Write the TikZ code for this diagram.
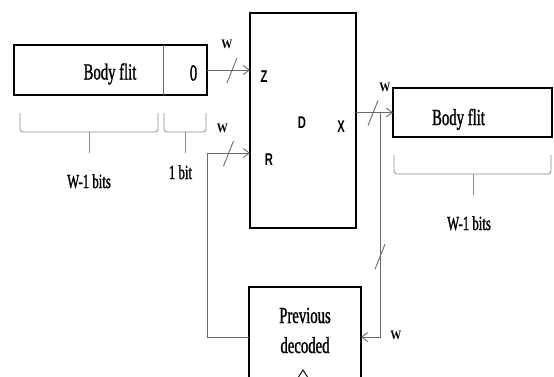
\documentclass[tikz,border=0pt]{standalone}
\usepackage{fontspec}
\usetikzlibrary{arrows.meta,positioning,calc}
\newfontfamily\flitfont{Liberation Serif}[FakeStretch=0.64, FakeBold=1.2]
\newfontfamily\portfont{Liberation Sans}[FakeStretch=0.66]
\newfontfamily\busfont{Liberation Serif}[FakeStretch=0.85]
\definecolor{wiregray}{HTML}{6A6A6A}
\definecolor{bracegray}{HTML}{8C8C8C}

\begin{document}
\begin{tikzpicture}[
  x=1pt, y=-1pt,
  >={Straight Barb[length=6pt,width=9pt]},
  box/.style={rectangle, draw=black, line width=2pt, inner sep=0pt, outer sep=0pt},
  cell/.style={rectangle, inner sep=0pt, outer sep=0pt},
  wire/.style={draw=wiregray, line width=0.9pt},
  busmark/.style={draw=wiregray, line width=0.9pt},
  bitbrace/.style={draw=bracegray, line width=0.8pt, rounded corners=3pt},
  flit/.style={font=\flitfont\fontsize{23}{28}\selectfont, inner sep=0pt, anchor=base},
  bitlabel/.style={font=\flitfont\fontsize{20}{24}\selectfont, inner sep=0pt, anchor=base},
  port/.style={font=\portfont\bfseries\fontsize{17}{20}\selectfont, inner sep=0pt, anchor=base},
  buswidth/.style={font=\busfont\bfseries\fontsize{13}{15}\selectfont, inner sep=0pt, anchor=base}
]
  \useasboundingbox (0,0) rectangle (554,376);

  % input flit
  \node[cell, minimum width=149pt, minimum height=50pt] (lbody) at (88.5,70) {};
  \node[cell, minimum width=44pt, minimum height=50pt, right=0pt of lbody] (lzero) {};
  \draw[line width=2pt] (lbody.north west) rectangle (lzero.south east);
  \draw[wire] (lzero.north west) -- (lzero.south west);
  \node[flit] (lbodytxt) at ($(lbody.center)+(21.5,9.5)$) {Body flit};
  \node[flit] (lzerotxt) at ($(lzero.center)+(8.5,10.5)$) {0};

  % decoder, output flit, previous decoded
  \node[box, minimum width=106pt, minimum height=215pt] (dec) at (303,120.5) {};
  \node[box, minimum width=159pt, minimum height=49pt] (rbody) at (472.5,112.5) {};
  \node[box, minimum width=112pt, minimum height=100pt] (prev) at (305,337) {};
  \draw[line width=0.9pt] ($(prev.south)+(-13,0)$) -- ($(prev.south)+(-2,-17)$) -- ($(prev.south)+(9,0)$);

  \node[flit] (rbodytxt) at ($(rbody.center)+(-14,12.5)$) {Body flit};
  \node[flit] (prevtxt) at ($(prev.center)+(0,-14)$) {Previous};
  \node[flit] (dectxt) at ($(prev.center)+(0,16)$) {decoded};

  \node[port] (zport) at ($(dec.west)+(14,-38.5)$) {Z};
  \node[port] (rport) at ($(dec.west)+(19,44.5)$) {R};
  \node[port] (dport) at ($(dec.center)+(-1,7.5)$) {D};
  \node[port] (xport) at ($(dec.east)+(-15,11.5)$) {X};

  % connectors
  \coordinate (rin) at ($(dec.west)+(0,32.5)$);
  \draw[wire,->] (lzero.east) -- coordinate[pos=0.58] (zbus) (lzero.east -| dec.west);
  \draw[wire,->] (prev.west) -| (lzero.east |- rin) -- coordinate[pos=0.5] (rbus) (rin);
  \draw[wire,->] (rbody.west -| dec.east) -- coordinate[pos=0.46] (xbus) (rbody.west);
  \coordinate (tap) at ($(rbody.west -| dec.east)+(24,0)$);
  \draw[wire,->] (tap) -- coordinate[pos=0.64] (fbus) (tap |- prev.east) -- (prev.east);

  \foreach \b in {zbus,rbus,xbus,fbus}
    \draw[busmark] ($(\b)+(-5,13)$) -- ($(\b)+(5,-12)$);

  \node[buswidth] (zw) at ($(zbus)+(-5,-22)$) {W};
  \node[buswidth] (rw) at ($(rbus)+(-6,-21)$) {W};
  \node[buswidth] (xw) at ($(xbus)+(12,-21.5)$) {W};
  \node[buswidth] (fw) at ($(prev.east)+(35,2)$) {W};

  % bit braces
  \foreach \xa/\xm/\xb/\yt in {20/89/158/113, 164/185/206/113, 394/473/551/155} {
    \draw[bitbrace] (\xa,\yt) -- (\xa,\yt+19) -- (\xb,\yt+19) -- (\xb,\yt);
    \draw[bitbrace] (\xm,\yt+19) -- (\xm,\yt+40);
  }
  \node[bitlabel] (lbits) at (89,188) {W-1 bits};
  \node[bitlabel] (onebit) at (180.5,179) {1 bit};
  \node[bitlabel] (rbits) at (469,230) {W-1 bits};
\end{tikzpicture}
\end{document}
